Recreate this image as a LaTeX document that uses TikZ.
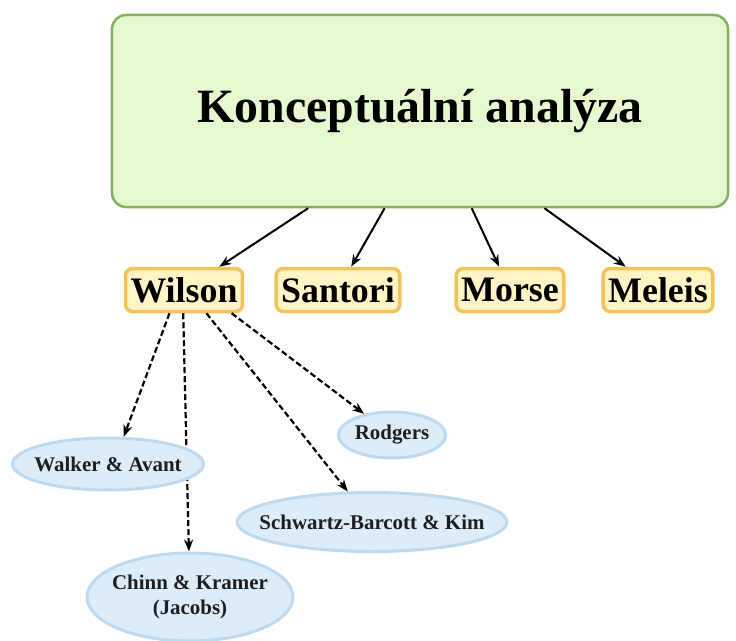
\documentclass[tikz,border=0pt]{standalone}
\usepackage{fontspec}
\setmainfont{Liberation Serif}
\usetikzlibrary{shapes.geometric,arrows.meta}

\definecolor{mainfill}{HTML}{E6F8CF}
\definecolor{maindraw}{HTML}{82B060}
\definecolor{namefill}{HTML}{FFF4C6}
\definecolor{namedraw}{HTML}{F0C45A}
\definecolor{blobfill}{HTML}{DCECF9}
\definecolor{blobdraw}{HTML}{BCD9F0}
\definecolor{blobink}{HTML}{1E1E1E}

\tikzset{
    mainbox/.style={draw=maindraw, fill=mainfill, line width=2.5bp, rounded corners=14bp,
        minimum width=616bp, minimum height=192bp, font=\fontsize{48}{56}\selectfont\bfseries},
    namebox/.style={draw=namedraw, fill=namefill, line width=3.5bp, rounded corners=7bp,
        minimum height=43bp, inner xsep=5bp, font=\fontsize{36}{40}\selectfont\bfseries},
    blob/.style={ellipse, draw=blobdraw, fill=blobfill, line width=3bp, inner sep=0pt},
    blobtext/.style={text=blobink, align=center, font=\fontsize{21}{25}\selectfont\bfseries},
    link/.style={->, line width=2bp},
    dlink/.style={->, line width=2.2bp, dash pattern=on 6bp off 3bp}
}

\begin{document}
\begin{tikzpicture}[x=1bp, y=-1bp, >={Stealth[length=12bp,width=9bp]}]
    \useasboundingbox (0,0) rectangle (736,641);

    % top box
    \node[mainbox] (main) at (420,111) {Konceptuální analýza};

    % authors
    \node[namebox] (wil) at (184,290) {Wilson};
    \node[namebox] (san) at (338,290) {Santori};
    \node[namebox] (mor) at (510,290) {Morse};
    \node[namebox] (mel) at (658,290) {Meleis};

    \draw[link] (main.221) -- (wil);
    \draw[link] (main.250) -- (san);
    \draw[link] (main.-62.5) -- (mor);
    \draw[link] (main.-38.7) -- (mel);

    % followers of Wilson
    \node[blob, minimum width=107bp, minimum height=46bp,
        label={[blobtext]center:Rodgers}] (rod) at (392,435) {};
    \node[blob, minimum width=270bp, minimum height=59bp,
        label={[blobtext]center:Schwartz-Barcott \& Kim}] (sch) at (372,522) {};
    \node[blob, minimum width=206bp, minimum height=88bp,
        label={[blobtext]center:Chinn \& Kramer\\(Jacobs)}] (chi) at (190,597) {};

    \draw[dlink] (wil.-92.6) -- (chi);
    \draw[dlink] (wil.-46.3) -- (sch);
    \draw[dlink] (wil.-26.6) -- (rod);

    % drawn last, it hides the line to Chinn
    \node[blob, minimum width=191bp, minimum height=52bp,
        label={[blobtext]center:Walker \& Avant}] (wal) at (108,464) {};
    \draw[dlink] (wil.-122.5) -- (wal.60);
\end{tikzpicture}
\end{document}
